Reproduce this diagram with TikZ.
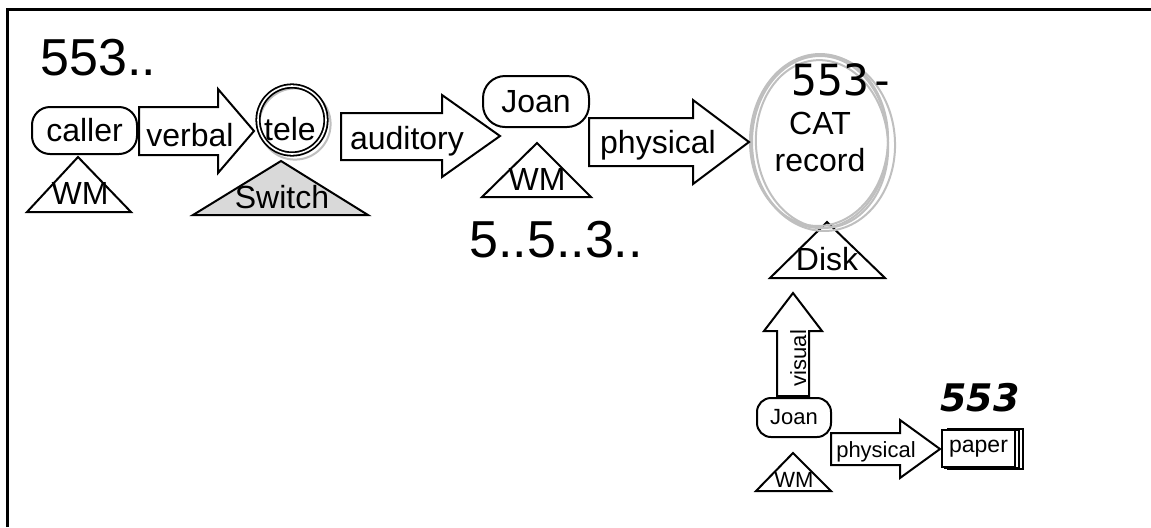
\documentclass[tikz,border=0pt]{standalone}
\usepackage{fontspec}
\setmainfont{Liberation Sans}
\newfontfamily\monofnt{DejaVu Sans Mono}
\newfontfamily\brushfnt{DejaVu Sans}
\usetikzlibrary{positioning,shapes}

\begin{document}
\begin{tikzpicture}[x=0.5pt,y=-0.5pt,
            lab/.style={inner sep=0pt,font=\fontsize{16}{18.5}\selectfont},
            smalllab/.style={inner sep=0pt,font=\fontsize{11}{13}\selectfont},
            big/.style={inner sep=0pt,font=\fontsize{26}{30}\selectfont},
            box/.style={draw,line width=1pt,rounded corners=9pt,inner sep=0pt,lab},
            smallbox/.style={box,rounded corners=7pt,smalllab},
            ring/.style={draw,circle,double,double distance=0.8pt,line width=0.9pt,minimum size=34pt,inner sep=0pt},
            sketch/.style={draw=black!25,line width=1pt},
            tri/.style={draw,line width=1pt},
            blk/.style={draw,line width=1pt,line join=miter}
          ]
          \useasboundingbox (0,0) rectangle (1151,527);
          %frame
          \draw[line width=1.5pt] (7,527) -- (7,9) -- (1151,9);

          %counts
          \node[big,anchor=base west] (count1) at (40,75) {553..};
          \node[big,anchor=base west] (count2) at (469,257) {5..5..3..};

          %triangles
          \draw[tri] (78,157) -- (131,212) -- (27,212) -- cycle;
          \draw[tri,fill=black!15] (281,161) -- (368,215) -- (193,215) -- cycle;
          \draw[tri] (537,143) -- (591,197) -- (482,197) -- cycle;
          \draw[tri] (827,222) -- (885,278) -- (770,278) -- cycle;
          \draw[tri] (793,453) -- (831,491) -- (756,491) -- cycle;
          \node[lab,anchor=base] (wm1) at (80,204) {WM};
          \node[lab,anchor=base] (switch) at (282,208) {Switch};
          \node[lab,anchor=base] (wm2) at (537,190) {WM};
          \node[lab,anchor=base] (disk) at (827,270) {Disk};
          \node[smalllab,anchor=base] (wm3) at (794,487) {WM};

          %holders
          \node[box,minimum width=52.5pt,minimum height=23.5pt] (caller) at (84.5,130.5) {caller};
          \draw[sketch] (295,124) circle (17.8pt);
          \node[ring] (tele) at (292,120) {};
          \node[lab,anchor=base] (teletext) at (290,140) {tele};
          \node[box,minimum width=53pt,minimum height=25.5pt,rounded corners=11pt] (joan) at (536,101.5) {Joan};
          \node[ellipse,sketch,minimum width=68pt,minimum height=86pt,inner sep=0pt,lab,align=center] (cat) at (820,142) {CAT\\record};
          \draw[sketch,rotate around={3:(823,143)}] (823,143) ellipse (36pt and 44pt);
          \draw[sketch,rotate around={-2:(819,140)}] (819,140) ellipse (34.5pt and 43pt);
          \draw[sketch,rotate around={5:(822,144)}] (822,144) ellipse (33pt and 42pt);
          \node[inner sep=0pt,anchor=base west,font=\monofnt\fontsize{21.5}{24}\selectfont] (count3) at (791,95) {553-};
          \node[smallbox,minimum width=37pt,minimum height=19.5pt] (joan2) at (794,417.5) {Joan};
          \draw[line width=0.8pt] (948,429) rectangle (1023,469);
          \draw[line width=0.8pt,fill=white] (945,430) rectangle (1019,468);
          \node[draw,line width=1.2pt,fill=white,minimum width=36.5pt,minimum height=18.5pt,inner sep=0pt,font=\fontsize{11.5}{13}\selectfont] (paper) at (978.5,448.5) {paper};
          \node[inner sep=0pt,anchor=base west,font=\brushfnt\bfseries\itshape\fontsize{19}{22}\selectfont] (count4) at (940,411) {553};

          %channels
          \draw[blk] (139,107) -- (218,107) -- (218,89) -- (254,131) -- (218,173) -- (218,155) -- (139,155) -- cycle;
          \draw[blk] (341,113) -- (442,113) -- (442,95) -- (500,136) -- (442,177) -- (442,160) -- (341,160) -- cycle;
          \draw[blk] (589,118) -- (693,118) -- (693,100) -- (749,142) -- (693,184) -- (693,166) -- (589,166) -- cycle;
          \draw[blk] (777,396) -- (777,331) -- (764,331) -- (793,293) -- (822,331) -- (809,331) -- (809,396) -- cycle;
          \draw[blk] (831,433) -- (900,433) -- (900,420) -- (940,449) -- (900,478) -- (900,465) -- (831,465) -- cycle;
          \node[lab,anchor=base] (verbal) at (190,146) {verbal};
          \node[lab,anchor=base] (auditory) at (407,149.5) {auditory};
          \node[lab,anchor=base] (physical) at (658,153) {physical};
          \node[inner sep=0pt,anchor=base,rotate=90,font=\fontsize{11}{12}\selectfont] (visual) at (806,358) {visual};
          \node[smalllab,anchor=base] (physical2) at (876,457) {physical};
      \end{tikzpicture}
\end{document}
